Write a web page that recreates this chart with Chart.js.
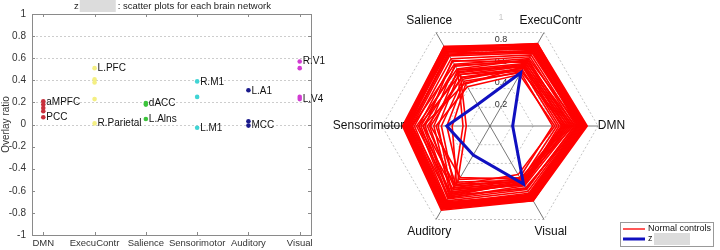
<!DOCTYPE html>
<html><head><meta charset="utf-8">
<script src="https://cdn.jsdelivr.net/npm/chart.js@4.4.0/dist/chart.umd.min.js"></script>
<style>
html,body{margin:0;padding:0;background:#fff;width:720px;height:250px;overflow:hidden}
#l{position:absolute;left:0;top:0;width:330px;height:250px}
#r{position:absolute;left:330px;top:0;width:390px;height:250px}
canvas{display:block}
</style></head><body>
<div id="l"><canvas id="c1" width="330" height="250"></canvas></div>
<div id="r"><canvas id="c2" width="390" height="250"></canvas></div>
<script>
const FONT = "'Liberation Sans', Arial, sans-serif";
Chart.defaults.font.family = FONT;

// ---------- Left: scatter plot data ----------
const categories = ['DMN','ExecuContr','Salience','Sensorimotor','Auditory','Visual'];
const dmnVals  = [0.21, 0.18, 0.15, 0.12, 0.065];
const execVals = [0.51, 0.41, 0.38, 0.23, 0.01];
const salVals  = [0.195, 0.18, 0.05];
const senVals  = [0.39, 0.25, -0.03];
const audVals  = [0.31, 0.03, -0.01];
const visVals  = [0.57, 0.51, 0.25, 0.23];
const networkColors = ['#c8303c','#f4ef82','#3cc43c','#40d4d4','#1a1a8c','#d23cd2'];
const regionText = ['aMPFC','PCC','L.PFC','R.Parietal','dACC','L.Alns','R.M1','L.M1','L.A1','MCC','R.V1','L.V4'];
const regionCat  = [1,1,2,2,3,3,4,4,5,5,6,6];
const regionVal  = [0.205,0.065,0.51,0.01,0.19,0.05,0.385,-0.03,0.305,-0.01,0.57,0.23];
const yTicks = [-1,-0.8,-0.6,-0.4,-0.2,0,0.2,0.4,0.6,0.8,1];
const yGrid = [0,0.2,0.4,0.6,0.8];
const titleLead = 'z';
const titleRest = ': scatter plots for each brain network';

// ---------- Right: radar data (order: DMN, ExecuContr, Salience, Sensorimotor, Auditory, Visual) ----------
const patientLabel = 'z';
const patientVals = [0.21, 0.57, 0.23, 0.40, 0.31, 0.62];
const controlLabel = 'Normal controls';
const ctrl01 = [0.90,0.88,0.85,0.81,0.90,0.80];
const ctrl02 = [0.89,0.87,0.84,0.80,0.89,0.79];
const ctrl03 = [0.88,0.86,0.85,0.79,0.88,0.78];
const ctrl04 = [0.87,0.88,0.83,0.78,0.87,0.80];
const ctrl05 = [0.86,0.85,0.82,0.80,0.88,0.77];
const ctrl06 = [0.88,0.84,0.84,0.77,0.86,0.79];
const ctrl07 = [0.85,0.86,0.81,0.79,0.87,0.76];
const ctrl08 = [0.87,0.83,0.83,0.76,0.85,0.78];
const ctrl09 = [0.84,0.85,0.80,0.78,0.86,0.75];
const ctrl10 = [0.86,0.82,0.82,0.75,0.84,0.77];
const ctrl11 = [0.83,0.84,0.79,0.77,0.85,0.74];
const ctrl12 = [0.85,0.80,0.78,0.74,0.83,0.76];
const ctrl13 = [0.82,0.82,0.80,0.76,0.84,0.73];
const ctrl14 = [0.84,0.79,0.77,0.73,0.82,0.75];
const ctrl15 = [0.81,0.81,0.76,0.75,0.83,0.72];
const ctrl16 = [0.83,0.78,0.75,0.72,0.81,0.74];
const ctrl17 = [0.80,0.76,0.72,0.70,0.80,0.70];
const ctrl18 = [0.78,0.74,0.69,0.66,0.78,0.68];
const ctrl19 = [0.82,0.72,0.66,0.72,0.76,0.66];
const ctrl20 = [0.76,0.70,0.64,0.64,0.77,0.64];
const ctrl21 = [0.79,0.68,0.70,0.60,0.74,0.67];
const ctrl22 = [0.74,0.71,0.61,0.68,0.72,0.62];
const ctrl23 = [0.77,0.66,0.58,0.62,0.75,0.60];
const ctrl24 = [0.72,0.69,0.65,0.56,0.70,0.63];
const ctrl25 = [0.75,0.64,0.55,0.66,0.68,0.58];
const ctrl26 = [0.70,0.67,0.60,0.52,0.73,0.61];
const ctrl27 = [0.73,0.62,0.52,0.58,0.66,0.56];
const ctrl28 = [0.69,0.65,0.57,0.48,0.71,0.59];
const ctrl29 = [0.64,0.62,0.50,0.45,0.66,0.62];
const ctrl30 = [0.62,0.60,0.55,0.22,0.60,0.58];
const ctrl31 = [0.58,0.57,0.48,0.40,0.57,0.55];
const ctrl32 = [0.66,0.64,0.45,0.35,0.62,0.60];
const ctrl33 = [0.68,0.59,0.52,0.55,0.55,0.57];
const ctrl34 = [0.60,0.55,0.42,0.50,0.63,0.52];
const ctrl35 = [0.67,0.63,0.60,0.25,0.68,0.63];
const ctrl36 = [0.71,0.58,0.46,0.62,0.64,0.59];
const controls = [ctrl01,ctrl02,ctrl03,ctrl04,ctrl05,ctrl06,ctrl07,ctrl08,ctrl09,ctrl10,ctrl11,ctrl12,
  ctrl13,ctrl14,ctrl15,ctrl16,ctrl17,ctrl18,ctrl19,ctrl20,ctrl21,ctrl22,ctrl23,ctrl24,ctrl25,ctrl26,
  ctrl27,ctrl28,ctrl29,ctrl30,ctrl31,ctrl32,ctrl33,ctrl34,ctrl35,ctrl36];
const radarTicks = [0.2,0.4,0.6,0.8,1];
// display order so DMN sits on the right and the axes run counter-clockwise
const radarOrder = [0,5,4,3,2,1];

// ---------- Left chart ----------
const groups = [dmnVals, execVals, salVals, senVals, audVals, visVals];
const leftPlugin = {
  id: 'leftDeco',
  beforeDatasetsDraw(chart) {
    const {ctx, chartArea: a, scales: {x, y}} = chart;
    ctx.save();
    ctx.strokeStyle = '#cdcdcd'; ctx.lineWidth = 1; ctx.setLineDash([2,2]);
    yGrid.forEach(v => { const py = Math.round(y.getPixelForValue(v)) + 0.5;
      ctx.beginPath(); ctx.moveTo(a.left, py); ctx.lineTo(a.right, py); ctx.stroke(); });
    ctx.setLineDash([]);
    ctx.strokeStyle = '#8a8a8a';
    ctx.strokeRect(Math.round(a.left)+0.5, Math.round(a.top)+0.5, Math.round(a.right-a.left), Math.round(a.bottom-a.top));
    yTicks.forEach(v => { const py = Math.round(y.getPixelForValue(v)) + 0.5;
      ctx.beginPath(); ctx.moveTo(a.left, py); ctx.lineTo(a.left+3, py);
      ctx.moveTo(a.right, py); ctx.lineTo(a.right-3, py); ctx.stroke(); });
    categories.forEach((c, i) => { const px = Math.round(x.getPixelForValue(i+1)) + 0.5;
      ctx.beginPath(); ctx.moveTo(px, a.top); ctx.lineTo(px, a.top+3);
      ctx.moveTo(px, a.bottom); ctx.lineTo(px, a.bottom-3); ctx.stroke(); });
    // title
    ctx.fillStyle = '#222'; ctx.font = '9.5px ' + FONT; ctx.textBaseline = 'middle'; ctx.textAlign = 'left';
    ctx.fillText(titleLead, 74, 6);
    const w = ctx.measureText(titleLead).width;
    ctx.fillStyle = '#dcdcdc'; ctx.fillRect(74 + w + 1, 0, 36, 12);
    ctx.fillStyle = '#222'; ctx.fillText(titleRest, 74 + w + 39, 6);
    ctx.restore();
  },
  afterDatasetsDraw(chart) {
    const {ctx, scales: {x, y}} = chart;
    ctx.save();
    ctx.fillStyle = '#111'; ctx.font = '10px ' + FONT; ctx.textBaseline = 'middle'; ctx.textAlign = 'left';
    regionText.forEach((t, i) => {
      ctx.fillText(t, x.getPixelForValue(regionCat[i]) + 3, y.getPixelForValue(regionVal[i]));
    });
    ctx.restore();
  }
};
new Chart(document.getElementById('c1'), {
  type: 'scatter',
  data: { datasets: groups.map((vals, i) => ({
    label: categories[i],
    data: vals.map(v => ({x: i + 1, y: v})),
    backgroundColor: networkColors[i], borderColor: networkColors[i],
    pointRadius: 2.3, borderWidth: 0, pointHoverRadius: 2.3
  })) },
  options: {
    responsive: false, animation: false,
    layout: { padding: { top: 14, right: 19, left: 0, bottom: 0 } },
    plugins: { legend: { display: false }, tooltip: { enabled: false } },
    scales: {
      x: { type: 'linear', min: 0.78, max: 6.22,
        afterBuildTicks: s => { s.ticks = categories.map((c, i) => ({ value: i + 1 })); },
        ticks: { callback: v => categories[Math.round(v) - 1], font: { size: 9.5 }, color: '#333', padding: 3, autoSkip: false, maxRotation: 0 },
        grid: { display: false, drawTicks: false }, border: { display: false },
        afterFit: s => { s.height = 15; } },
      y: { min: -1, max: 1,
        afterBuildTicks: s => { s.ticks = yTicks.map(v => ({ value: v })); },
        ticks: { callback: v => String(+(+v).toFixed(1)), font: { size: 10 }, color: '#333', padding: 6 },
        grid: { display: false, drawTicks: false }, border: { display: false },
        title: { display: true, text: 'Overlay ratio', font: { size: 10 }, color: '#333', padding: 0 },
        afterFit: s => { s.width = 32; } }
    }
  },
  plugins: [leftPlugin]
});

// ---------- Right chart ----------
const rightPlugin = {
  id: 'rightDeco',
  beforeDatasetsDraw(chart) {
    const {ctx} = chart; const r = chart.scales.r;
    ctx.save();
    ctx.font = '9px ' + FONT; ctx.textAlign = 'center'; ctx.textBaseline = 'middle';
    radarTicks.forEach(v => {
      ctx.fillStyle = v === 1 ? '#c8c8c8' : '#333';
      ctx.fillText(String(v), r.xCenter + 11, r.yCenter - r.getDistanceFromCenterForValue(v));
    });
    ctx.restore();
  },
  afterDraw(chart) {
    const {ctx} = chart; const r = chart.scales.r;
    ctx.save();
    ctx.font = '12px ' + FONT; ctx.fillStyle = '#111'; ctx.textAlign = 'center'; ctx.textBaseline = 'middle';
    chart.data.labels.forEach((lab, i) => {
      const p = r.getPointPosition(i, r.drawingArea * 1.125);
      ctx.fillText(lab, p.x, p.y);
    });
    // legend
    const bx = 290, by = 222;
    ctx.fillStyle = '#fff'; ctx.fillRect(bx, by, 93, 24);
    ctx.strokeStyle = '#999'; ctx.lineWidth = 1; ctx.strokeRect(bx + 0.5, by + 0.5, 93, 24);
    ctx.strokeStyle = '#ff2020'; ctx.lineWidth = 1.5;
    ctx.beginPath(); ctx.moveTo(bx + 3, by + 7); ctx.lineTo(bx + 25, by + 7); ctx.stroke();
    ctx.strokeStyle = '#1010c0'; ctx.lineWidth = 3;
    ctx.beginPath(); ctx.moveTo(bx + 3, by + 17); ctx.lineTo(bx + 25, by + 17); ctx.stroke();
    ctx.font = '9px ' + FONT; ctx.fillStyle = '#111'; ctx.textAlign = 'left';
    ctx.fillText(controlLabel, bx + 28, by + 7);
    ctx.fillText(patientLabel, bx + 28, by + 17);
    ctx.fillStyle = '#dcdcdc'; ctx.fillRect(bx + 34, by + 11, 36, 12);
    ctx.restore();
  }
};
new Chart(document.getElementById('c2'), {
  type: 'radar',
  data: {
    labels: radarOrder.map(i => categories[i]),
    datasets: [
      { label: patientLabel, data: radarOrder.map(i => patientVals[i]), borderColor: '#1010c0', borderWidth: 3,
        pointRadius: 0, fill: false, tension: 0 },
      ...controls.map(c => ({ label: controlLabel, data: radarOrder.map(i => c[i]), borderColor: '#ff0000',
        borderWidth: 1.6, pointRadius: 0, fill: false, tension: 0 }))
    ]
  },
  options: {
    responsive: false, animation: false,
    layout: { padding: { left: 52, top: 18, right: 122, bottom: 16 } },
    plugins: { legend: { display: false }, tooltip: { enabled: false } },
    scales: { r: {
      min: 0, max: 1, startAngle: 90,
      ticks: { display: false, stepSize: 0.2 },
      pointLabels: { display: false },
      grid: { color: '#c4c4c4', lineWidth: 1 },
      border: { dash: [2, 2] },
      angleLines: { color: '#555', lineWidth: 0.8 }
    } }
  },
  plugins: [rightPlugin]
});
</script>
</body></html>
